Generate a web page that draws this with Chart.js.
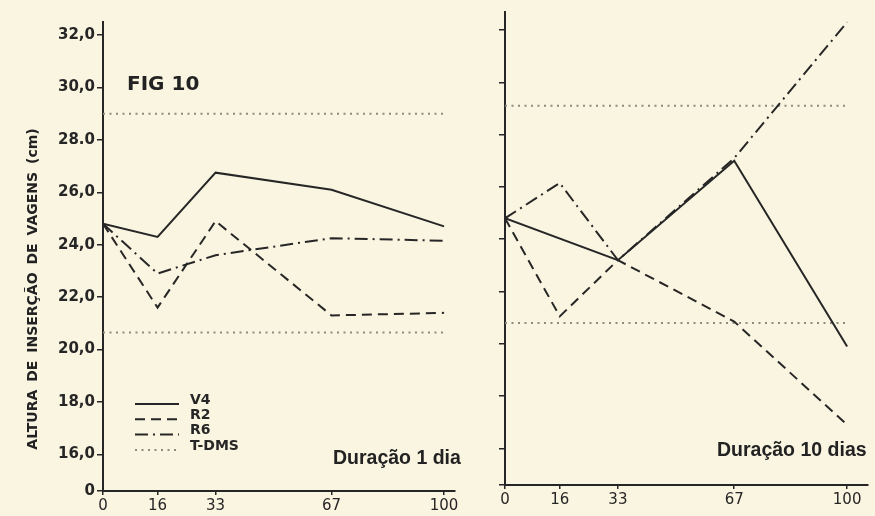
<!DOCTYPE html>
<html>
<head>
    <title>Altura de inserção de vagens</title>
    <script src="https://cdn.jsdelivr.net/npm/chart.js"></script>
    <style>
        body {
            margin: 0;
            width: 875px;
            height: 516px;
            position: relative;
            overflow: hidden;
            background-color: #faf5e1;
            color: #222;
            font-family: 'DejaVu Sans', sans-serif;
        }
        canvas {
            position: absolute;
            top: 0;
        }
        #chart1 { left: 0; }
        #chart10 { left: 475px; }
        .note {
            position: absolute;
            font-weight: bold;
            white-space: pre;
            line-height: 1;
        }
        #fig {
            left: 127px;
            top: 73px;
            font-size: 20px;
        }
        .duracao {
            font-family: 'Liberation Sans', Arial, sans-serif;
            font-size: 19.5px;
        }
        #dur1 { left: 333px; top: 448px; }
        #dur10 { left: 717px; top: 440px; }
        #ytitle {
            left: -138px;
            top: 281px;
            width: 340px;
            height: 16px;
            line-height: 16px;
            text-align: center;
            font-size: 14px;
            word-spacing: 3px;
            transform: rotate(-90deg);
        }
    </style>
</head>
<body>

    <canvas id="chart1" width="475" height="516"></canvas>
    <canvas id="chart10" width="400" height="516"></canvas>

    <div class="note" id="ytitle">ALTURA DE INSERÇÃO DE VAGENS (cm)</div>
    <div class="note" id="fig">FIG 10</div>
    <div class="note duracao" id="dur1">Duração 1 dia</div>
    <div class="note duracao" id="dur10">Duração 10 dias</div>

    <script>
        // axis ticks (dose %); the y axis is broken below 16,0
        const xTicks = [0, 16, 33, 67, 100];
        const yTicks = [16, 18, 20, 22, 24, 26, 28, 30, 32];
        const yTickLabels = ['16,0', '18,0', '20,0', '22,0', '24,0', '26,0', '28.0', '30,0', '32,0'];
        const yMin = 14.6;
        const yBreakLabel = '0';

        // Duração 1 dia
        const dose1 = [0, 16, 33, 67, 100];
        const v4Dia1 = [24.8, 24.3, 26.75, 26.1, 24.7];
        const r2Dia1 = [24.8, 21.6, 24.9, 21.3, 21.4];
        const r6Dia1 = [24.8, 22.9, 23.6, 24.25, 24.15];
        const tdmsDia1 = [29.0, 20.65];

        // Duração 10 dias
        const doseV4Dias10 = [0, 33, 67, 100];
        const v4Dias10 = [24.8, 23.2, 27.0, 19.9];
        const dose10 = [0, 16, 33, 67, 100];
        const r2Dias10 = [24.8, 21.05, 23.2, 20.85, 16.9];
        const r6Dias10 = [24.8, 26.15, 23.2, 27.1, 32.3];
        const tdmsDias10 = [29.1, 20.8];

        const doseRange = [0, 100];

        const ink = '#262626';
        const grey = '#8d8a7e';
        const styles = {
            V4: { borderColor: ink, borderWidth: 2, borderDash: [] },
            R2: { borderColor: ink, borderWidth: 2, borderDash: [10, 6] },
            R6: { borderColor: ink, borderWidth: 2, borderDash: [13, 5, 2, 5] },
            TDMS: { borderColor: grey, borderWidth: 2, borderDash: [2, 4.5] }
        };

        function pts(xs, ys) {
            return xs.map((x, i) => ({ x: x, y: ys[i] }));
        }

        function series(label, key, xs, ys, inLegend) {
            return Object.assign({
                label: label,
                legendLabel: inLegend ? label : null,
                data: pts(xs, ys),
                fill: false
            }, styles[key]);
        }

        // small legend: a line sample followed by the series name
        const legendLines = {
            id: 'legendLines',
            afterDraw(chart, args, opts) {
                const ctx = chart.ctx;
                let y = opts.y;
                ctx.save();
                ctx.font = 'bold 14px "DejaVu Sans"';
                ctx.textBaseline = 'middle';
                ctx.fillStyle = ink;
                chart.data.datasets.forEach(ds => {
                    if (!ds.legendLabel) return;
                    ctx.strokeStyle = ds.borderColor;
                    ctx.lineWidth = ds.borderWidth;
                    ctx.setLineDash(ds.borderDash);
                    ctx.beginPath();
                    ctx.moveTo(opts.x, y + 4);
                    ctx.lineTo(opts.x + opts.length, y + 4);
                    ctx.stroke();
                    ctx.fillText(ds.legendLabel, opts.x + opts.length + 11, y);
                    y += opts.step;
                });
                ctx.restore();
            }
        };

        function panel(id, datasets, o) {
            return new Chart(document.getElementById(id), {
                type: 'line',
                data: { datasets: datasets },
                options: {
                    responsive: false,
                    animation: false,
                    layout: { padding: o.padding },
                    elements: {
                        point: { radius: 0 },
                        line: { tension: 0, borderCapStyle: 'butt' }
                    },
                    plugins: {
                        legend: { display: false },
                        tooltip: { enabled: false },
                        legendLines: o.legend || false
                    },
                    scales: {
                        x: {
                            type: 'linear',
                            min: 0,
                            max: o.xMax,
                            afterBuildTicks: s => { s.ticks = xTicks.map(v => ({ value: v })); },
                            afterFit: s => { s.height = o.xHeight; },
                            ticks: {
                                autoSkip: false,
                                maxRotation: 0,
                                padding: 2,
                                color: ink,
                                font: { family: 'DejaVu Sans', size: 15 },
                                callback: v => String(v)
                            },
                            grid: { drawOnChartArea: false, tickLength: 4, color: ink, lineWidth: 1.5 },
                            border: { color: ink, width: 2 }
                        },
                        y: {
                            type: 'linear',
                            min: yMin,
                            max: o.yMax,
                            afterBuildTicks: s => { s.ticks = [yMin].concat(yTicks).map(v => ({ value: v })); },
                            afterFit: s => { s.width = o.yWidth; },
                            ticks: {
                                autoSkip: false,
                                padding: 2,
                                color: ink,
                                font: { family: 'DejaVu Sans', size: 15, weight: 'bold' },
                                callback: (v, i) => o.yLabels ? (i === 0 ? yBreakLabel : yTickLabels[i - 1]) : ''
                            },
                            grid: { drawOnChartArea: false, tickLength: 6, color: ink, lineWidth: 1.5 },
                            border: { color: ink, width: 2 }
                        }
                    }
                },
                plugins: [legendLines]
            });
        }

        panel('chart1', [
            series('V4', 'V4', dose1, v4Dia1, true),
            series('R2', 'R2', dose1, r2Dia1, true),
            series('R6', 'R6', dose1, r6Dia1, true),
            series('T-DMS', 'TDMS', doseRange, [tdmsDia1[0], tdmsDia1[0]], true),
            series('T-DMS', 'TDMS', doseRange, [tdmsDia1[1], tdmsDia1[1]], false)
        ], {
            padding: { top: 22, right: 20, left: 0, bottom: 0 },
            xMax: 103.2,
            yMax: 32.5,
            xHeight: 25,
            yWidth: 103,
            yLabels: true,
            legend: { x: 135, y: 400, step: 15.3, length: 44 }
        });

        panel('chart10', [
            series('V4', 'V4', doseV4Dias10, v4Dias10, true),
            series('R2', 'R2', dose10, r2Dias10, true),
            series('R6', 'R6', dose10, r6Dias10, true),
            series('T-DMS', 'TDMS', doseRange, [tdmsDias10[0], tdmsDias10[0]], true),
            series('T-DMS', 'TDMS', doseRange, [tdmsDias10[1], tdmsDias10[1]], false)
        ], {
            padding: { top: 12, right: 7, left: 0, bottom: 0 },
            xMax: 106.1,
            yMax: 32.69,
            xHeight: 31,
            yWidth: 30,
            yLabels: false
        });
    </script>
</body>
</html>
